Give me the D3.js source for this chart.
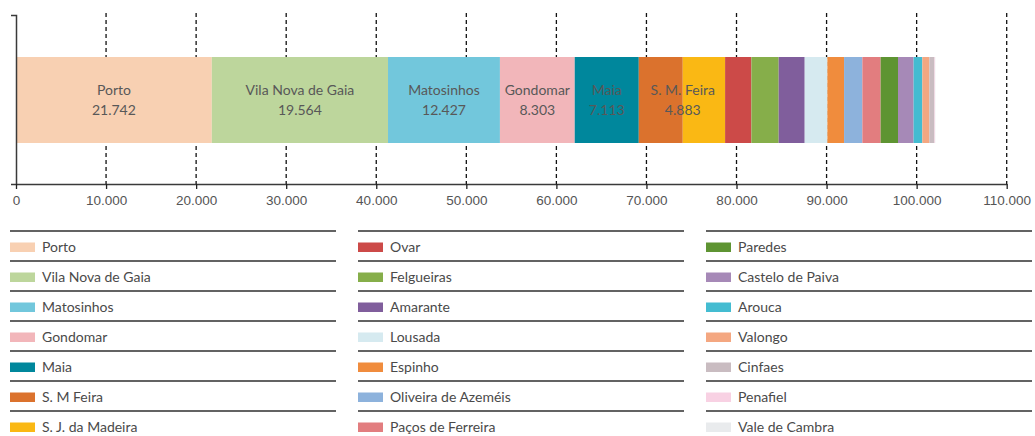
<!DOCTYPE html>
<html>
<head>
<meta charset="utf-8">
<script src="https://cdn.jsdelivr.net/npm/d3@7"></script>
<style>
  html, body { margin: 0; padding: 0; background: #fff; }
  svg { display: block; font-family: Lato, "Open Sans", sans-serif; }
  .tick-label { fill: #555; font-size: 13.5px; }
  .bar-label { fill: #585858; font-size: 14px; }
  .legend-label { fill: #4a4a4a; font-size: 14px; }
</style>
</head>
<body>
<div id="chart"></div>
<script>
const WIDTH = 1035;
const HEIGHT = 436;

// municipalities in stacking order
const municipalities = [
  "Porto", "Vila Nova de Gaia", "Matosinhos", "Gondomar", "Maia", "S. M Feira",
  "S. J. da Madeira", "Ovar", "Felgueiras", "Amarante", "Lousada", "Espinho",
  "Oliveira de Azeméis", "Paços de Ferreira", "Paredes", "Castelo de Paiva",
  "Arouca", "Valongo", "Cinfaes", "Penafiel", "Vale de Cambra"
];
const values = [
  21742, 19564, 12427, 8303, 7113, 4883,
  4700, 2920, 3030, 2890, 2520, 1850,
  2030, 2030, 1930, 1730,
  970, 780, 560, 60, 40
];
const colors = [
  "#f8d0b2", "#bdd69c", "#72c7dc", "#f2b6ba", "#00879c", "#db722d",
  "#fab814", "#cc4a48", "#86ae4a", "#805e9c", "#d6eaf0", "#f08c3d",
  "#8db2dc", "#e27d7f", "#5e9432", "#a689b7",
  "#44bcd1", "#f4a781", "#c9bcc1", "#f8d1e3", "#e9ebed"
];
// in-bar labels (only the biggest ones are labelled)
const barLabelNames = ["Porto", "Vila Nova de Gaia", "Matosinhos", "Gondomar", "Maia", "S. M. Feira"];
const barLabelAnchor = ["mid", "mid", "mid", "mid", "mid", "end"];
const xTicks = [0, 10000, 20000, 30000, 40000, 50000, 60000, 70000, 80000, 90000, 100000, 110000];

const fmt = d3.formatLocale({ decimal: ",", thousands: ".", grouping: [3] }).format(",");

const svg = d3.select("#chart").append("svg")
  .attr("width", WIDTH)
  .attr("height", HEIGHT);

const x = d3.scaleLinear().domain([0, 110000]).range([16, 1006.7]);
const plotTop = 15;
const plotBottom = 184;

// stacked rows
let cum = 0;
const segs = values.map((v, i) => {
  const s = { name: municipalities[i], value: v, color: colors[i], x0: cum, x1: cum + v };
  cum += v;
  return s;
});

// dashed grid
svg.append("g")
  .selectAll("line")
  .data(xTicks.filter((t) => t > 0))
  .join("line")
  .attr("x1", (d) => x(d))
  .attr("x2", (d) => x(d))
  .attr("y1", 13)
  .attr("y2", plotBottom)
  .attr("stroke", "#111")
  .attr("stroke-width", 1.3)
  .attr("stroke-dasharray", "4,3");

// bar segments
svg.append("g")
  .selectAll("rect")
  .data(segs)
  .join("rect")
  .attr("x", (d) => x(d.x0))
  .attr("y", 57)
  .attr("width", (d) => x(d.x1) - x(d.x0))
  .attr("height", 86)
  .attr("fill", (d) => d.color);

// bar labels
const lbl = svg.append("g")
  .selectAll("text")
  .data(barLabelNames.map((n, i) => ({ name: n, seg: segs[i], anchor: barLabelAnchor[i] })))
  .join("text")
  .attr("class", "bar-label")
  .attr("text-anchor", "middle")
  .attr("x", (d) => (d.anchor === "end" ? x(d.seg.x1) : x((d.seg.x0 + d.seg.x1) / 2)));
lbl.append("tspan").attr("y", 95).text((d) => d.name);
lbl.append("tspan")
  .attr("x", (d) => (d.anchor === "end" ? x(d.seg.x1) : x((d.seg.x0 + d.seg.x1) / 2)))
  .attr("y", 115)
  .text((d) => fmt(d.seg.value));

// axes
const yAxis = svg.append("g")
  .attr("transform", "translate(16,0)")
  .call(d3.axisLeft(d3.scaleLinear().range([plotBottom, plotTop])).ticks(0).tickSizeOuter(5));
yAxis.select(".domain").attr("stroke", "#3a3a3a").attr("stroke-width", 1.5);

const xAxis = svg.append("g")
  .attr("transform", `translate(0,${plotBottom})`)
  .call(d3.axisBottom(x).tickValues(xTicks).tickSize(5).tickSizeOuter(0).tickFormat(fmt));
xAxis.select(".domain").attr("stroke", "#3a3a3a").attr("stroke-width", 1.5);
xAxis.selectAll(".tick line").attr("stroke", "#222").attr("stroke-width", 1.3);
xAxis.selectAll(".tick text")
  .attr("class", "tick-label")
  .attr("y", 11)
  .attr("font-family", null)
  .attr("font-size", null)
  .attr("fill", null);

// legend: 3 columns of 7
const legend = svg.append("g");
const item = legend.selectAll("g")
  .data(segs)
  .join("g")
  .attr("transform", (d, i) => `translate(${10 + Math.floor(i / 7) * 348},${231 + (i % 7) * 30})`);

item.append("line")
  .attr("x1", 0)
  .attr("x2", 326)
  .attr("y1", 0)
  .attr("y2", 0)
  .attr("stroke", "#2f2f2f")
  .attr("stroke-width", 1.5);
item.append("rect")
  .attr("x", 0)
  .attr("y", 11.5)
  .attr("width", 25)
  .attr("height", 9.5)
  .attr("fill", (d) => d.color);
item.append("text")
  .attr("class", "legend-label")
  .attr("x", 32)
  .attr("y", 20.5)
  .text((d) => d.name);
</script>
</body>
</html>
